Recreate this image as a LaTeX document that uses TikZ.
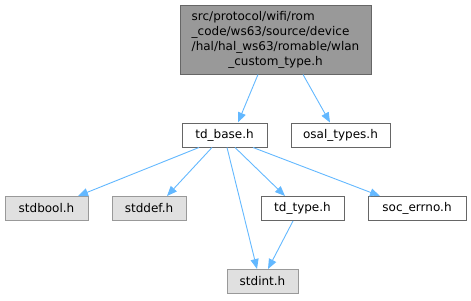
\documentclass[tikz,border=0pt]{standalone}
\usepackage{fontspec}
\setmainfont{DejaVu Sans}
\usetikzlibrary{arrows.meta}
\definecolor{edgeblue}{HTML}{63B8FF}
\definecolor{darkborder}{HTML}{666666}
\definecolor{graybox}{HTML}{999999}
\definecolor{lightgray}{HTML}{E0E0E0}
\begin{document}
\begin{tikzpicture}[x=1pt,y=-1pt,
  every node/.style={font=\fontsize{12}{15}\selectfont, inner sep=0pt, minimum height=24pt},
  filebox/.style={draw=darkborder, fill=white, line width=1pt},
  sysbox/.style={draw=graybox, fill=lightgray, line width=1pt},
  rootbox/.style={draw=darkborder, fill=graybox, line width=1pt},
  dep/.style={draw=edgeblue, line width=0.9pt, -{Triangle[length=10pt,width=8pt]}}
]
\useasboundingbox (0,0) rectangle (471,300);

\node[rootbox, minimum width=191pt, minimum height=69pt] (root) at (275.5,39.5)
  {\begin{tabular}{@{}l@{}}src/protocol/wifi/rom\\\_code/ws63/source/device\\/hal/hal\_ws63/romable/wlan\\\multicolumn{1}{@{}c@{}}{\_custom\_type.h}\end{tabular}};

\node[filebox, minimum width=85pt] (tdbase) at (224.5,135) {td\_base.h};
\node[filebox, minimum width=99pt] (osal) at (340.5,135) {osal\_types.h};

\node[sysbox, minimum width=83pt] (stdbool) at (46.5,208.5) {stdbool.h};
\node[sysbox, minimum width=74pt] (stddef) at (149,208.5) {stddef.h};
\node[filebox, minimum width=83pt] (tdtype) at (302.5,208.5) {td\_type.h};
\node[filebox, minimum width=98pt] (socerrno) at (417,208.5) {soc\_errno.h};
\node[sysbox, minimum width=71pt] (stdint) at (262.5,281.5) {stdint.h};

\draw[dep] ([xshift=-17.5pt]root.south) -- ([xshift=13.5pt]tdbase.north);
\draw[dep] ([xshift=27.5pt]root.south) -- ([xshift=-10.5pt]osal.north);

\draw[dep] ([xshift=-25.5pt]tdbase.south) -- ([xshift=31.5pt]stdbool.north);
\draw[dep] ([xshift=-12.5pt]tdbase.south) -- ([xshift=18pt]stddef.north);
\draw[dep] ([xshift=2.5pt]tdbase.south) -- ([xshift=-5.5pt]stdint.north);
\draw[dep] ([xshift=10.5pt]tdbase.south) -- ([xshift=-17.5pt]tdtype.north);
\draw[dep] ([xshift=28.5pt]tdbase.south) -- ([xshift=-37pt]socerrno.north);

\draw[dep] ([xshift=-9.5pt]tdtype.south) -- ([xshift=5.5pt]stdint.north);
\end{tikzpicture}
\end{document}
